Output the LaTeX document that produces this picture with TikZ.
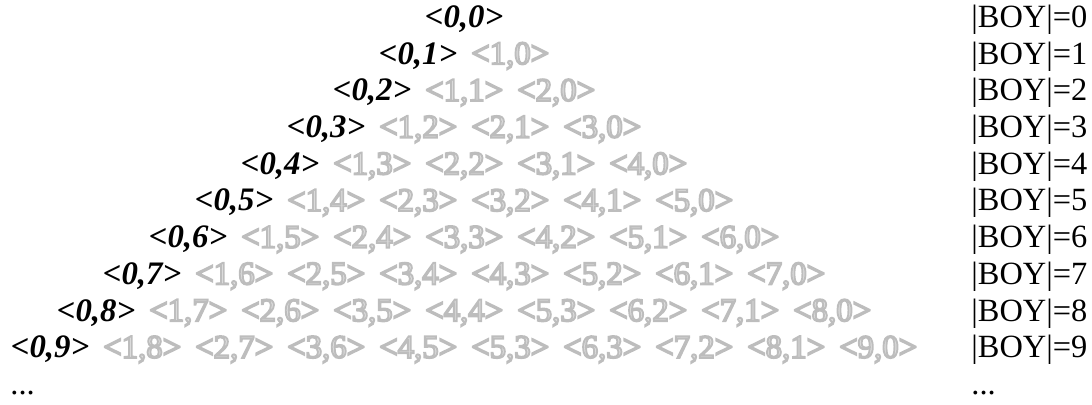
\documentclass[tikz,border=0pt]{standalone}
\usepackage{fontspec}
\setmainfont{Liberation Serif}
\usepackage{xcolor}
\definecolor{tupfill}{HTML}{E0E0E0}
\newcommand{\btup}[1]{\textbf{\textit{<#1>}}}
\newcommand{\gtup}[1]{{\color{tupfill}\special{pdf:literal direct 2 Tr 0.95 w 0.74 0.74 0.74 RG}<#1>\special{pdf:literal direct 0 Tr}}}
\newcommand{\tsep}{\hspace{7pt}}

\begin{document}
\begin{tikzpicture}[
  x=0.5pt,y=-0.5pt,
  tuprow/.style={inner sep=0pt,anchor=base,font=\fontsize{16.4}{19}\selectfont},
  sizelabel/.style={inner sep=0pt,anchor=base west,font=\fontsize{16.2}{19}\selectfont}
]
  \useasboundingbox (0,0) rectangle (1092,405);
  % triangle of pairs
  \node[tuprow] (row0) at (464,27.5) {\btup{0,0}};
  \node[tuprow] (row1) at (464,64.2) {\btup{0,1}\tsep\gtup{1,0}};
  \node[tuprow] (row2) at (464,100.9) {\btup{0,2}\tsep\gtup{1,1}\tsep\gtup{2,0}};
  \node[tuprow] (row3) at (464,137.6) {\btup{0,3}\tsep\gtup{1,2}\tsep\gtup{2,1}\tsep\gtup{3,0}};
  \node[tuprow] (row4) at (464,174.3) {\btup{0,4}\tsep\gtup{1,3}\tsep\gtup{2,2}\tsep\gtup{3,1}\tsep\gtup{4,0}};
  \node[tuprow] (row5) at (464,211) {\btup{0,5}\tsep\gtup{1,4}\tsep\gtup{2,3}\tsep\gtup{3,2}\tsep\gtup{4,1}\tsep\gtup{5,0}};
  \node[tuprow] (row6) at (464,247.7) {\btup{0,6}\tsep\gtup{1,5}\tsep\gtup{2,4}\tsep\gtup{3,3}\tsep\gtup{4,2}\tsep\gtup{5,1}\tsep\gtup{6,0}};
  \node[tuprow] (row7) at (464,284.4) {\btup{0,7}\tsep\gtup{1,6}\tsep\gtup{2,5}\tsep\gtup{3,4}\tsep\gtup{4,3}\tsep\gtup{5,2}\tsep\gtup{6,1}\tsep\gtup{7,0}};
  \node[tuprow] (row8) at (464,321.1) {\btup{0,8}\tsep\gtup{1,7}\tsep\gtup{2,6}\tsep\gtup{3,5}\tsep\gtup{4,4}\tsep\gtup{5,3}\tsep\gtup{6,2}\tsep\gtup{7,1}\tsep\gtup{8,0}};
  \node[tuprow] (row9) at (464,357.8) {\btup{0,9}\tsep\gtup{1,8}\tsep\gtup{2,7}\tsep\gtup{3,6}\tsep\gtup{4,5}\tsep\gtup{5,3}\tsep\gtup{6,3}\tsep\gtup{7,2}\tsep\gtup{8,1}\tsep\gtup{9,0}};
  \node[sizelabel] (moreleft) at (10,394.5) {...};
  % sizes on the right
  \foreach \k in {0,...,9}
    \node[sizelabel] (boy\k) at (971,{27.5+36.7*\k}) {|BOY|=\k};
  \node[sizelabel] (moreright) at (971,394.5) {...};
\end{tikzpicture}
\end{document}
